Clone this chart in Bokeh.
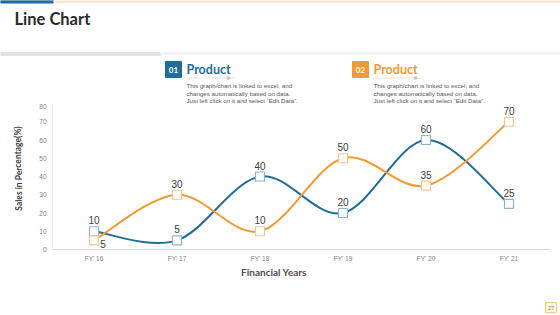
from bokeh.plotting import figure
from bokeh.layouts import column, row
from bokeh.models import Range1d, FixedTicker, ColumnDataSource
from bokeh.embed import file_html
from bokeh.resources import INLINE
from bokeh.core.properties import value

# ---------------- data ----------------
years = ["FY' 16", "FY' 17", "FY' 18", "FY' 19", "FY' 20", "FY' 21"]
product_1 = [10, 5, 40, 20, 60, 25]
product_2 = [5, 30, 10, 50, 35, 70]
y_ticks = [0, 10, 20, 30, 40, 50, 60, 70, 80]
legend_numbers = ["01", "02"]
legend_titles = ["Product", "Product"]
desc_lines = ["This graph/chart is linked to excel, and",
              "changes automatically based on data.",
              "Just left click on it and select \u201cEdit Data\u201d."]
chart_title = "Line Chart"
x_title = "Financial Years"
y_title = "Sales in Percentage(%)"
page_no = "27"

# ---------------- styles ----------------
BLUE = "#1F6E99"
ORANGE = "#F39A31"
BLUE_LIGHT = "#8DB5CD"
ORANGE_LIGHT = "#F6C587"
TXT = "#404040"
HEAD_FONT = value("Lato")
BODY_FONT = value("Liberation Sans")
W = 560
HEAD_H, CHART_H, FOOT_H = 103, 161, 51
FRAME_H = 147
YT_W = 30


def blank(width, height):
    f = figure(width=width, height=height, x_range=Range1d(0, width), y_range=Range1d(height, 0),
               output_backend="svg", toolbar_location=None, min_border=0,
               x_axis_location=None, y_axis_location=None)
    f.grid.visible = False
    f.outline_line_color = None
    return f


def no_align(f):
    try:
        f.frame_align = False
    except Exception:
        pass


# ---------------- header ----------------
h = blank(W, HEAD_H)
h.quad(left=[0], right=[53], top=[0], bottom=[2.5], color=BLUE)
h.quad(left=[53], right=[W], top=[0.5], bottom=[1.6], color="#F8DCC4")
h.quad(left=[0], right=[160], top=[52], bottom=[55], color="#E2E2E2")
h.quad(left=[160], right=[W], top=[52], bottom=[54], color="#F3F3F3")

h.text(x=[14], y=[18], text=[chart_title], text_font=HEAD_FONT, text_font_style="bold",
       text_font_size="16.5px", text_baseline="middle", text_color="#2B2B2B")

box_left = [165, 352]
h.quad(left=box_left, right=[b + 16 for b in box_left], top=[61] * 2, bottom=[77] * 2,
       color=[BLUE, ORANGE])
h.text(x=[b + 8 for b in box_left], y=[69] * 2, text=legend_numbers, text_align="center",
       text_baseline="middle", text_color="white", text_font=HEAD_FONT,
       text_font_style="bold", text_font_size="8px")
txt_left = [186, 373]
h.text(x=txt_left, y=[68.5] * 2, text=legend_titles, text_baseline="middle",
       text_color=[BLUE, ORANGE], text_font=HEAD_FONT, text_font_style="bold",
       text_font_size="12.5px")
h.segment(x0=txt_left, y0=[77.5] * 2, x1=[t + 48 for t in txt_left], y1=[77.5] * 2,
          line_color="#E3E3E3", line_width=1)
h.scatter(x=[t + 42 for t in txt_left], y=[77.5] * 2, size=3, color="#C8C8C8")
for i, line in enumerate(desc_lines):
    h.text(x=txt_left, y=[85 + 7.5 * i] * 2, text=[line] * 2, text_baseline="middle",
           text_color="#555555", text_font=BODY_FONT, text_font_size="6.2px")

# ---------------- y title strip ----------------
yt = blank(YT_W, CHART_H)
yt.text(x=[18], y=[65], text=[y_title], angle=1.5708, text_align="center",
        text_baseline="middle", text_font=HEAD_FONT, text_font_style="bold",
        text_font_size="8.5px", text_color="#404040")

# ---------------- chart ----------------
p = figure(width=W - YT_W, height=CHART_H, x_range=Range1d(-0.5, len(years) - 0.5),
           y_range=Range1d(0, 80), output_backend="svg", toolbar_location=None,
           min_border_left=52 - YT_W, min_border_right=10, min_border_top=0,
           min_border_bottom=CHART_H - FRAME_H)
p.grid.visible = False
p.outline_line_color = None

p.xaxis.ticker = FixedTicker(ticks=list(range(len(years))))
p.xaxis.major_label_overrides = {i: y for i, y in enumerate(years)}
p.yaxis.ticker = FixedTicker(ticks=y_ticks)
for ax in (p.xaxis, p.yaxis):
    ax.major_tick_line_color = None
    ax.minor_tick_line_color = None
    ax.major_tick_out = 0
    ax.major_tick_in = 0
    ax.minor_tick_out = 0
    ax.minor_tick_in = 0
    ax.major_label_text_font = "Liberation Sans"
    ax.major_label_text_font_size = "6.5px"
    ax.major_label_text_color = "#808080"
p.xaxis.axis_line_color = "#D9D9D9"
p.yaxis.axis_line_color = "#EAEAEA"
p.xaxis.major_label_standoff = 5
p.yaxis.major_label_standoff = 6


def bezier_parts(vals):
    n = len(vals)
    xs = list(range(n))
    out = {k: [] for k in ("x0", "y0", "x1", "y1", "cx0", "cy0", "cx1", "cy1")}
    for i in range(n - 1):
        a, b = max(i - 1, 0), min(i + 2, n - 1)
        out["x0"].append(xs[i]); out["y0"].append(vals[i])
        out["x1"].append(xs[i + 1]); out["y1"].append(vals[i + 1])
        out["cx0"].append(xs[i] + (xs[i + 1] - xs[a]) / 6)
        out["cy0"].append(vals[i] + (vals[i + 1] - vals[a]) / 6)
        out["cx1"].append(xs[i + 1] - (xs[b] - xs[i]) / 6)
        out["cy1"].append(vals[i + 1] - (vals[b] - vals[i]) / 6)
    return out


xs = list(range(len(years)))
label_offsets = {
    "p1": ([0] * 6, [-11] * 6),
    "p2": ([9] + [0] * 5, [4] + [-11] * 5),
}
series = (("p1", product_1, BLUE, BLUE_LIGHT), ("p2", product_2, ORANGE, ORANGE_LIGHT))
for key, vals, col, light in series:
    p.bezier(source=ColumnDataSource(bezier_parts(vals)), x0="x0", y0="y0", x1="x1", y1="y1",
             cx0="cx0", cy0="cy0", cx1="cx1", cy1="cy1", line_color=col, line_width=2)

for key, vals, col, light in series:
    p.scatter(x=xs, y=vals, marker="square", size=9, fill_color="white",
              line_color=light, line_width=1.2)
    xo, yo = label_offsets[key]
    src = ColumnDataSource(dict(x=xs, y=vals, t=[str(v) for v in vals], xo=xo, yo=yo))
    p.text(x="x", y="y", text="t", x_offset="xo", y_offset="yo", source=src,
           text_align="center", text_baseline="middle", text_color=TXT,
           text_font=BODY_FONT, text_font_size="10px")

# ---------------- footer ----------------
FOOT_TOP = HEAD_H + CHART_H  # page y where the footer starts
f = blank(W, FOOT_H)
f.text(x=[273.5], y=[271 - FOOT_TOP], text=[x_title], text_align="center",
       text_baseline="middle", text_font=HEAD_FONT, text_font_style="bold",
       text_font_size="10px", text_color="#505050")
f.quad(left=[545], right=[556], top=[302 - FOOT_TOP], bottom=[312 - FOOT_TOP],
       fill_color="#FFF7E3", line_color="#EFCB7E", line_width=1)
f.text(x=[550.5], y=[307 - FOOT_TOP], text=[page_no], text_align="center",
       text_baseline="middle", text_font=BODY_FONT, text_font_size="5.5px",
       text_color="#8A7A50")

for fig in (h, yt, p, f):
    no_align(fig)

layout = column(h, row(yt, p, spacing=0), f, spacing=0)
open("out.html", "w").write(file_html(layout, INLINE))
